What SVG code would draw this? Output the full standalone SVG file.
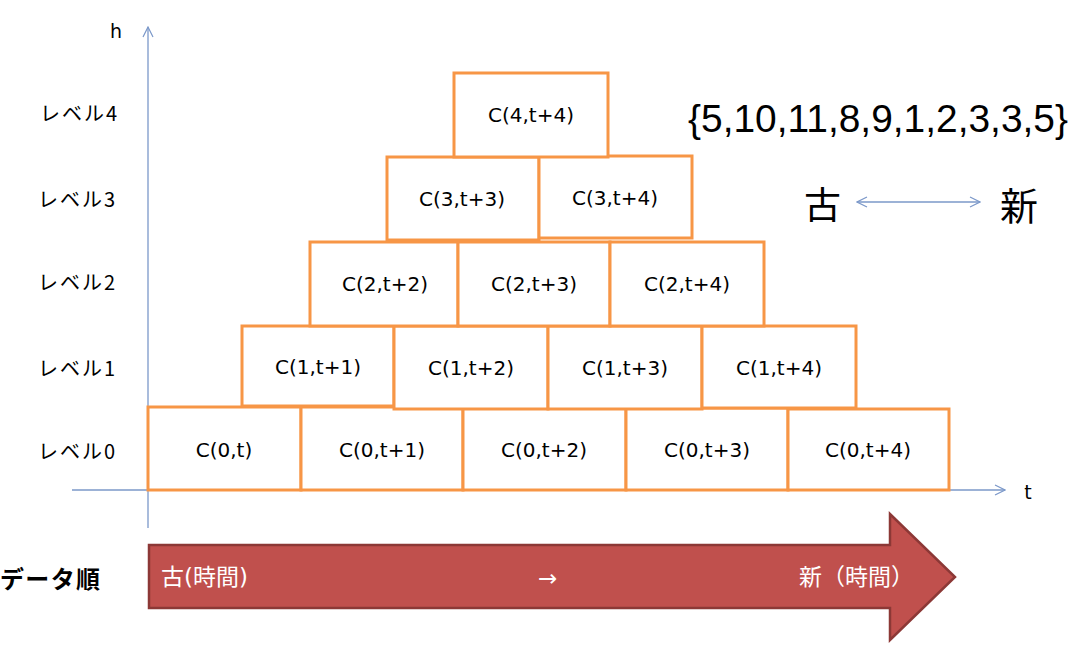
<svg xmlns="http://www.w3.org/2000/svg" width="1076" height="650" viewBox="0 0 1076 650">
<style>
.box{fill:#fff;stroke:#F79646;stroke-width:3}
.bl{font-family:"DejaVu Sans",sans-serif;font-size:20px;fill:#000;text-anchor:middle;dominant-baseline:central}
.lv{font-family:"Noto Sans CJK JP",sans-serif;font-size:20px;fill:#000;dominant-baseline:central}
.ax{stroke:#7B98C9;stroke-width:1.3;fill:none}
.wt{font-family:"DejaVu Sans","Noto Sans CJK JP",sans-serif;font-size:23px;fill:#fff;dominant-baseline:central}
</style>
<defs>
<marker id="ah" viewBox="0 0 12 12" refX="11" refY="6" markerWidth="12" markerHeight="12" markerUnits="userSpaceOnUse" orient="auto-start-reverse">
<path d="M1,1 L11,6 L1,11" fill="none" stroke="#7B98C9" stroke-width="1.2"/>
</marker>
</defs>
<rect width="1076" height="650" fill="#fff"/>
<g id="connectors">
<line class="ax" x1="148" y1="528" x2="148" y2="27" marker-end="url(#ah)"/>
<line class="ax" x1="72" y1="490" x2="1005" y2="490" marker-end="url(#ah)"/>
<line class="ax" x1="857" y1="202" x2="980" y2="202" marker-start="url(#ah)" marker-end="url(#ah)"/>
</g>
<g id="axis-labels">
<text x="116" y="31" font-family="DejaVu Sans,sans-serif" font-size="19" text-anchor="middle" dominant-baseline="central">h</text>
<text x="1028" y="492" font-family="DejaVu Sans,sans-serif" font-size="19" text-anchor="middle" dominant-baseline="central">t</text>
</g>
<g id="level-labels">
<text class="lv" x="40" y="112" textLength="77">レベル4</text>
<text class="lv" x="38" y="198" textLength="77">レベル3</text>
<text class="lv" x="38" y="281" textLength="77">レベル2</text>
<text class="lv" x="38" y="367" textLength="77">レベル1</text>
<text class="lv" x="38" y="450" textLength="77">レベル0</text>
</g>
<g id="n-0-0"><rect class="box" x="148" y="407" width="153" height="83"/><text class="bl" x="224" y="450">C(0,t)</text></g>
<g id="n-0-1"><rect class="box" x="301" y="407" width="162" height="83"/><text class="bl" x="382" y="450">C(0,t+1)</text></g>
<g id="n-0-2"><rect class="box" x="463" y="408" width="163" height="82"/><text class="bl" x="544" y="450">C(0,t+2)</text></g>
<g id="n-0-3"><rect class="box" x="626" y="408" width="162" height="82"/><text class="bl" x="707" y="450">C(0,t+3)</text></g>
<g id="n-0-4"><rect class="box" x="788" y="409" width="161" height="81"/><text class="bl" x="868" y="450">C(0,t+4)</text></g>
<g id="n-1-1"><rect class="box" x="242" y="326" width="152" height="80"/><text class="bl" x="318" y="367">C(1,t+1)</text></g>
<g id="n-1-2"><rect class="box" x="394" y="326" width="154" height="83"/><text class="bl" x="471" y="368">C(1,t+2)</text></g>
<g id="n-1-3"><rect class="box" x="548" y="326" width="154" height="83"/><text class="bl" x="625" y="368">C(1,t+3)</text></g>
<g id="n-1-4"><rect class="box" x="702" y="326" width="154" height="82"/><text class="bl" x="779" y="368">C(1,t+4)</text></g>
<g id="n-2-2"><rect class="box" x="310" y="242" width="148" height="84"/><text class="bl" x="385" y="284">C(2,t+2)</text></g>
<g id="n-2-3"><rect class="box" x="458" y="242" width="152" height="84"/><text class="bl" x="534" y="284">C(2,t+3)</text></g>
<g id="n-2-4"><rect class="box" x="610" y="242" width="154" height="84"/><text class="bl" x="687" y="284">C(2,t+4)</text></g>
<g id="n-3-3"><rect class="box" x="387" y="157" width="152" height="83"/><text class="bl" x="462" y="199">C(3,t+3)</text></g>
<g id="n-3-4"><rect class="box" x="539" y="156" width="153" height="82"/><text class="bl" x="615" y="198">C(3,t+4)</text></g>
<g id="n-4-4"><rect class="box" x="454" y="73" width="154" height="84"/><text class="bl" x="531" y="115">C(4,t+4)</text></g>
<g id="sequence">
<text x="688" y="119" font-family="Liberation Sans,sans-serif" font-size="38" dominant-baseline="central" textLength="380" lengthAdjust="spacingAndGlyphs">{5,10,11,8,9,1,2,3,3,5}</text>
<text x="804" y="203" font-family="Noto Sans CJK JP,sans-serif" font-size="37" dominant-baseline="central">古</text>
<text x="1000" y="203" font-family="Noto Sans CJK JP,sans-serif" font-size="38" dominant-baseline="central">新</text>
</g>
<g id="data-order">
<text x="0" y="577" font-family="Noto Sans CJK JP,sans-serif" font-size="24" font-weight="bold" dominant-baseline="central" textLength="100">データ順</text>
<path d="M149,545 L890,545 L890,514 L955,577 L890,640 L890,608 L149,608 Z" fill="#C0504D" stroke="#8C3836" stroke-width="2.5" stroke-linejoin="miter"/>
<text class="wt" x="161" y="577">古(時間)</text>
<text class="wt" x="538" y="578" font-size="20">→</text>
<text class="wt" x="799" y="577" font-family="Noto Sans CJK JP,sans-serif" font-size="22">新（時間）</text>
</g>
</svg>
